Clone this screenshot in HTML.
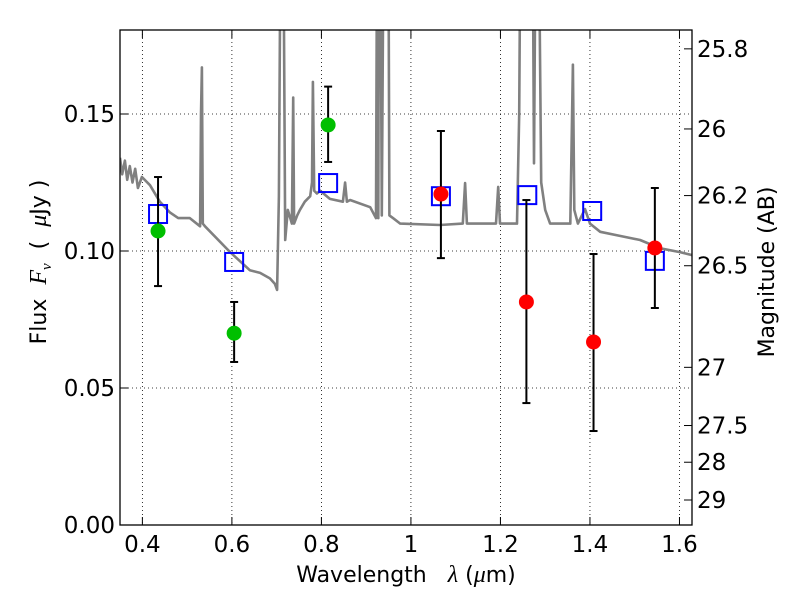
<!DOCTYPE html>
<html><head><meta charset="utf-8"><style>
body{margin:0;background:#fff;}
svg text{font-family:"DejaVu Sans","Liberation Sans",sans-serif;fill:#000;}
</style></head><body>
<svg id="chart" width="800" height="600" viewBox="0 0 800 600" xmlns="http://www.w3.org/2000/svg">
<defs><clipPath id="plotclip"><rect x="120" y="30" width="572" height="495"/></clipPath></defs>
<rect width="800" height="600" fill="#fff"/>
<g id="grid"></g>
<g id="spec" clip-path="url(#plotclip)"></g>
<g id="marks"></g>
<rect x="120" y="30" width="572" height="495" fill="none" stroke="#000" stroke-width="1.3"/>
<g id="axes"></g>
<text x="406" y="582" font-size="22" text-anchor="middle" xml:space="preserve">Wavelength   <tspan font-style="italic" font-family="Liberation Serif,serif" font-size="24">λ</tspan> (<tspan font-style="italic" font-family="Liberation Serif,serif" font-size="24">μ</tspan>m)</text>
<text transform="translate(46,262) rotate(-90)" font-size="22" text-anchor="middle" xml:space="preserve">Flux  <tspan font-style="italic" font-family="Liberation Serif,serif" font-size="24">F</tspan><tspan font-style="italic" font-family="Liberation Serif,serif" font-size="15" dy="5">ν</tspan><tspan dy="-5">  (  </tspan><tspan font-style="italic" font-family="Liberation Serif,serif" font-size="24">μ</tspan>Jy )</text>
<text transform="translate(774,272) rotate(-90)" font-size="22" text-anchor="middle">Magnitude (AB)</text>
</svg>
<script>
const xTicks = [0.4, 0.6, 0.8, 1.0, 1.2, 1.4, 1.6];
const xTickLabels = ["0.4", "0.6", "0.8", "1", "1.2", "1.4", "1.6"];
const yTicks = [0, 0.05, 0.10, 0.15];
const yTickLabels = ["0.00", "0.05", "0.10", "0.15"];
const magTicks = [25.8, 26, 26.2, 26.46, 27, 27.5, 28, 29];
const magTickLabels = ["25.8", "26", "26.2", "26.5", "27", "27.5", "28", "29"];
const obsWave = [0.435, 0.605, 0.815, 1.067, 1.258, 1.408, 1.545];
const obsFlux = [0.1073, 0.070, 0.146, 0.1208, 0.0814, 0.0668, 0.1011];
const obsErrHi = [0.127, 0.0814, 0.160, 0.1438, 0.1186, 0.0989, 0.123];
const obsErrLo = [0.0872, 0.0595, 0.1325, 0.0974, 0.0445, 0.0343, 0.0792];
const obsColor = ["#00bf00", "#00bf00", "#00bf00", "#ff0000", "#ff0000", "#ff0000", "#ff0000"];
const modelWave = [0.435, 0.605, 0.815, 1.067, 1.26, 1.405, 1.545];
const modelFlux = [0.1135, 0.096, 0.1248, 0.120, 0.1204, 0.1146, 0.0964];
const spectrum = [[0.350,0.134],[0.355,0.128],[0.361,0.133],[0.366,0.126],[0.372,0.131],[0.378,0.125],[0.384,0.130],[0.390,0.123],[0.399,0.127],[0.417,0.124],[0.439,0.118],[0.462,0.114],[0.480,0.112],[0.506,0.112],[0.529,0.109],[0.531,0.15],[0.533,0.167],[0.535,0.11],[0.540,0.109],[0.596,0.0996],[0.640,0.093],[0.663,0.092],[0.685,0.090],[0.696,0.088],[0.701,0.0858],[0.705,0.12],[0.710,0.25],[0.714,0.25],[0.719,0.104],[0.725,0.115],[0.734,0.11],[0.737,0.156],[0.739,0.11],[0.746,0.113],[0.752,0.115],[0.763,0.118],[0.775,0.12],[0.779,0.125],[0.781,0.1617],[0.784,0.122],[0.790,0.121],[0.797,0.122],[0.819,0.119],[0.848,0.118],[0.853,0.125],[0.857,0.118],[0.864,0.1186],[0.909,0.116],[0.922,0.112],[0.925,0.25],[0.927,0.112],[0.929,0.25],[0.931,0.25],[0.935,0.113],[0.940,0.25],[0.942,0.25],[0.944,0.2],[0.947,0.25],[0.949,0.25],[0.952,0.113],[0.960,0.112],[0.976,0.110],[1.065,0.1095],[1.116,0.110],[1.121,0.1248],[1.125,0.110],[1.132,0.110],[1.190,0.110],[1.195,0.1234],[1.199,0.110],[1.210,0.110],[1.237,0.110],[1.242,0.15],[1.246,0.25],[1.271,0.25],[1.275,0.132],[1.280,0.25],[1.284,0.25],[1.291,0.125],[1.300,0.115],[1.311,0.110],[1.356,0.110],[1.360,0.15],[1.362,0.168],[1.365,0.115],[1.373,0.110],[1.389,0.1153],[1.400,0.110],[1.423,0.107],[1.467,0.1055],[1.512,0.104],[1.557,0.101],[1.601,0.0996],[1.628,0.0985]];

const X0=120,X1=692,Y0=525,Y1=30, WMIN=0.35, WMAX=1.628, FMAX=0.18066;
const xs = w => X0 + (w-WMIN)/(WMAX-WMIN)*(X1-X0);
const ys = f => Y0 - f/FMAX*(Y0-Y1);
const magToFlux = m => Math.pow(10,(23.9-m)/2.5);
const NS="http://www.w3.org/2000/svg";
function mk(tag, attrs, parent){const e=document.createElementNS(NS,tag);for(const k in attrs)e.setAttribute(k,attrs[k]);parent.appendChild(e);return e;}
const grid=document.getElementById('grid'), axes=document.getElementById('axes'), spec=document.getElementById('spec'), marks=document.getElementById('marks');

xTicks.forEach((t,i)=>{
  const x=xs(t);
  const g=mk('line',{x1:x,x2:x,y1:Y1,y2:Y0,stroke:'#000','stroke-width':0.8,'stroke-dasharray':'1,3'},grid);
  
  
  mk('line',{x1:x,x2:x,y1:Y0,y2:Y0-8,stroke:'#000','stroke-width':1},axes);
  mk('line',{x1:x,x2:x,y1:Y1,y2:Y1+8,stroke:'#000','stroke-width':1},axes);
  const tx=mk('text',{x:x,y:Y0+27,'font-size':23,'text-anchor':'middle'},axes);
  tx.textContent=xTickLabels[i];
  
  
});
yTicks.forEach((t,i)=>{
  const y=ys(t);
  if(t>0){
    const g=mk('line',{x1:X0,x2:X1,y1:y,y2:y,stroke:'#000','stroke-width':0.8,'stroke-dasharray':'1,3'},grid);
    
    
  }
  mk('line',{x1:X0,x2:X0+8,y1:y,y2:y,stroke:'#000','stroke-width':1},axes);
  const tx=mk('text',{x:X0-5,y:y+8,'font-size':23,'text-anchor':'end'},axes);
  tx.textContent=yTickLabels[i];
  
  
});
magTicks.forEach((m,i)=>{
  const y=ys(magToFlux(m));
  mk('line',{x1:X1,x2:X1-8,y1:y,y2:y,stroke:'#000','stroke-width':1},axes);
  const tx=mk('text',{x:X1+5,y:y+8,'font-size':23,'text-anchor':'start'},axes);
  tx.textContent=magTickLabels[i];
  
  
});

const pts=spectrum.map(p=>xs(p[0]).toFixed(1)+','+ys(p[1]).toFixed(1)).join(' ');
const pl=mk('polyline',{points:pts,fill:'none',stroke:'#808080','stroke-width':2.6,'stroke-linejoin':'round'},spec);



modelWave.forEach((w,i)=>{
  const x=xs(w), y=ys(modelFlux[i]);
  const r=mk('rect',{x:x-9,y:y-9,width:18,height:18,fill:'none',stroke:'#0000ff','stroke-width':2},marks);
  
  
});
obsWave.forEach((w,i)=>{
  const x=xs(w), yh=ys(obsErrHi[i]), yl=ys(obsErrLo[i]);
  const eb=mk('g',{stroke:'#000','stroke-width':2},marks);
  
  
  mk('line',{x1:x,x2:x,y1:yh,y2:yl},eb);
  mk('line',{x1:x-4,x2:x+4,y1:yh,y2:yh},eb);
  mk('line',{x1:x-4,x2:x+4,y1:yl,y2:yl},eb);
});
obsWave.forEach((w,i)=>{
  const c=mk('circle',{cx:xs(w),cy:ys(obsFlux[i]),r:7.5,fill:obsColor[i]},marks);
  
  
});
</script>
</body></html>
